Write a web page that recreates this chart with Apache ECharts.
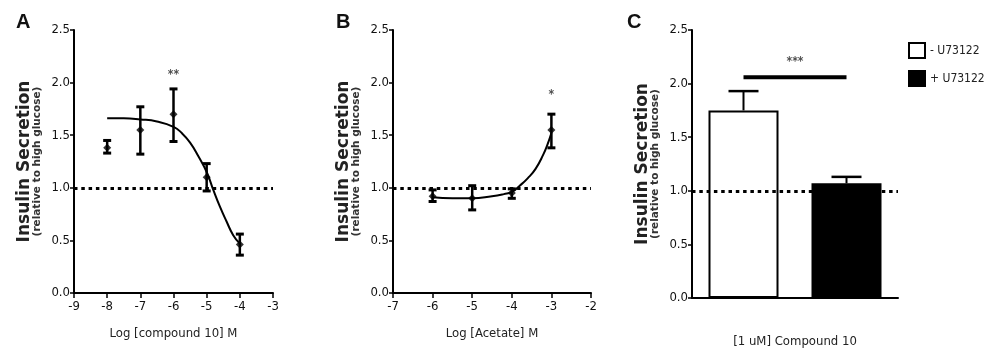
<!DOCTYPE html>
<html>
<head>
<meta charset="utf-8">
<script src="https://cdn.jsdelivr.net/npm/echarts@6/dist/echarts.min.js"></script>
<style>html,body{margin:0;padding:0;background:#fff;}#c{width:987px;height:360px;}</style>
</head>
<body>
<div id="c"></div>
<script>
// ---- Panel A: compound 10 ----
const aDose = [-8, -7, -6, -5, -4];
const aMean = [1.38, 1.55, 1.70, 1.10, 0.46];
const aLow  = [1.33, 1.32, 1.44, 0.97, 0.36];
const aHigh = [1.45, 1.77, 1.94, 1.23, 0.56];
const aFitX = [-8, -7.5, -7, -6.5, -6, -5.75, -5.5, -5.25, -5, -4.8, -4.6, -4.4, -4.2, -4];
const aFitY = [1.66, 1.66, 1.65, 1.63, 1.58, 1.52, 1.43, 1.30, 1.15, 0.98, 0.82, 0.68, 0.55, 0.47];
const aStar = [[-6, 2.07, '**']];
// ---- Panel B: acetate ----
const bDose = [-6, -5, -4, -3];
const bMean = [0.92, 0.90, 0.95, 1.55];
const bLow  = [0.87, 0.79, 0.90, 1.38];
const bHigh = [0.98, 1.02, 0.99, 1.70];
const bFitX = [-6, -5.5, -5, -4.5, -4.2, -4, -3.8, -3.6, -3.4, -3.2, -3.1, -3];
const bFitY = [0.91, 0.90, 0.90, 0.92, 0.94, 0.96, 1.02, 1.09, 1.18, 1.32, 1.41, 1.52];
const bStar = [[-3, 1.88, '*']];
// ---- Panel C: bars ----
const cGroups = ['- U73122', '+ U73122'];
const cMean = [1.75, 1.07];
const cHigh = [1.93, 1.13];
const cSigBar = [0, 1];
const cSigY = 2.06;
const cStar = [[0.5, 2.2, '***']];
// ---- axis ticks ----
const yTicks = [0, 0.5, 1.0, 1.5, 2.0, 2.5];
const refLine = 1.0;

const NARROW = "'DejaVu Sans Condensed', 'Liberation Sans Narrow', 'Liberation Sans', Arial, sans-serif";
const chart = echarts.init(document.getElementById('c'));

function yAxisCfg(gi) {
  return {
    type: 'value', gridIndex: gi, min: yTicks[0], max: yTicks[yTicks.length - 1], interval: 0.5,
    axisLine: { show: true, onZero: false, lineStyle: { color: '#000', width: 2 } },
    axisTick: { show: true, length: 4, lineStyle: { color: '#000', width: 1.5 } },
    axisLabel: { formatter: v => v.toFixed(1), fontFamily: NARROW, fontSize: 13, color: '#111', margin: 4 },
    splitLine: { show: false },
    name: '{a|Insulin Secretion}\n{b|(relative to high glucose)}',
    nameLocation: 'middle', nameRotate: 90, nameGap: 31,
    nameTextStyle: {
      rich: {
        a: { fontFamily: 'DejaVu Sans', fontWeight: 'bold', fontSize: 17, lineHeight: 14, color: '#222' },
        b: { fontFamily: 'DejaVu Sans', fontWeight: 'bold', fontSize: 10.5, lineHeight: 11, color: '#333' }
      }
    }
  };
}
function xAxisCfg(gi, min, max, name, gap) {
  return {
    type: 'value', gridIndex: gi, min: min, max: max, interval: 1,
    axisLine: { show: true, onZero: false, lineStyle: { color: '#000', width: 2 } },
    axisTick: { show: true, length: 5, lineStyle: { color: '#000', width: 1.5 } },
    axisLabel: { fontFamily: NARROW, fontSize: 13, color: '#111', margin: 7 },
    splitLine: { show: false },
    name: name, nameLocation: 'middle', nameGap: gap,
    nameTextStyle: { fontFamily: NARROW, fontSize: 13, color: '#222' }
  };
}
function errSeries(gi, xs, lo, hi, cap) {
  return {
    type: 'custom', xAxisIndex: gi, yAxisIndex: gi, silent: true, z: 4,
    data: xs.map((x, i) => [x, lo[i], hi[i]]),
    renderItem: function (params, api) {
      const x = api.value(0);
      const p1 = api.coord([x, api.value(1)]);
      const p2 = api.coord([x, api.value(2)]);
      const st = { stroke: '#000', lineWidth: 2.5 };
      const cs = { stroke: '#000', lineWidth: 3 };
      return { type: 'group', children: [
        { type: 'line', shape: { x1: p1[0], y1: p1[1], x2: p2[0], y2: p2[1] }, style: st },
        { type: 'line', shape: { x1: p1[0] - cap, y1: p1[1], x2: p1[0] + cap, y2: p1[1] }, style: cs },
        { type: 'line', shape: { x1: p2[0] - cap, y1: p2[1], x2: p2[0] + cap, y2: p2[1] }, style: cs }
      ]};
    }
  };
}
function starSeries(gi, arr) {
  return {
    type: 'scatter', xAxisIndex: gi, yAxisIndex: gi, symbolSize: 1, itemStyle: { color: 'rgba(0,0,0,0)' },
    silent: true,
    data: arr.map(d => ({ value: [d[0], d[1]], label: { formatter: d[2] } })),
    label: { show: true, position: 'inside', fontFamily: NARROW, fontSize: 12, fontWeight: 'bold', color: '#222' }
  };
}
function refMark() {
  return {
    silent: true, symbol: 'none', label: { show: false },
    lineStyle: { color: '#000', type: [3.5, 3.8], width: 3 },
    data: [{ yAxis: refLine }]
  };
}

const option = {
  animation: false,
  backgroundColor: '#fff',
  title: [
    { text: 'A', left: 11, top: 7, textStyle: { fontFamily: 'Liberation Sans', fontWeight: 'bold', fontSize: 20, color: '#111' } },
    { text: 'B', left: 331, top: 7, textStyle: { fontFamily: 'Liberation Sans', fontWeight: 'bold', fontSize: 20, color: '#111' } },
    { text: 'C', left: 622, top: 7, textStyle: { fontFamily: 'Liberation Sans', fontWeight: 'bold', fontSize: 20, color: '#111' } }
  ],
  legend: {
    orient: 'vertical', left: 903, top: 37, itemWidth: 16, itemHeight: 15, itemGap: 11,
    data: cGroups, icon: 'rect',
    textStyle: { fontFamily: NARROW, fontSize: 12, color: '#222' }
  },
  grid: [
    { left: 74, top: 30, width: 199, height: 263 },
    { left: 393, top: 30, width: 198, height: 263 },
    { left: 692, top: 30, width: 206, height: 268 }
  ],
  xAxis: [
    xAxisCfg(0, -9, -3, 'Log [compound 10] M', 34),
    xAxisCfg(1, -7, -2, 'Log [Acetate] M', 34),
    {
      type: 'value', gridIndex: 2, min: -0.5, max: 1.5,
      axisLine: { show: true, onZero: false, lineStyle: { color: '#000', width: 2 } },
      axisTick: { show: false }, axisLabel: { show: false }, splitLine: { show: false },
      name: '[1 uM] Compound 10', nameLocation: 'middle', nameGap: 37,
      nameTextStyle: { fontFamily: NARROW, fontSize: 13, color: '#222' }
    }
  ],
  yAxis: [yAxisCfg(0), yAxisCfg(1), yAxisCfg(2)],
  series: [
    // Panel A
    {
      type: 'line', xAxisIndex: 0, yAxisIndex: 0, smooth: true, showSymbol: false, silent: true,
      data: aFitX.map((x, i) => [x, aFitY[i]]),
      lineStyle: { color: '#000', width: 2 }, z: 3,
      markLine: refMark()
    },
    errSeries(0, aDose, aLow, aHigh, 4),
    {
      type: 'scatter', xAxisIndex: 0, yAxisIndex: 0, symbol: 'diamond', symbolSize: 8, z: 5,
      itemStyle: { color: '#000' }, data: aDose.map((x, i) => [x, aMean[i]])
    },
    starSeries(0, aStar),
    // Panel B
    {
      type: 'line', xAxisIndex: 1, yAxisIndex: 1, smooth: true, showSymbol: false, silent: true,
      data: bFitX.map((x, i) => [x, bFitY[i]]),
      lineStyle: { color: '#000', width: 2 }, z: 3,
      markLine: refMark()
    },
    errSeries(1, bDose, bLow, bHigh, 4),
    {
      type: 'scatter', xAxisIndex: 1, yAxisIndex: 1, symbol: 'diamond', symbolSize: 8, z: 5,
      itemStyle: { color: '#000' }, data: bDose.map((x, i) => [x, bMean[i]])
    },
    starSeries(1, bStar),
    // Panel C
    {
      name: cGroups[0], type: 'bar', xAxisIndex: 2, yAxisIndex: 2, barWidth: 70, barGap: '-100%',
      data: [[0, cMean[0]]],
      itemStyle: { color: '#fff', borderColor: '#000', borderWidth: 2 }, z: 2,
      markLine: refMark()
    },
    {
      name: cGroups[1], type: 'bar', xAxisIndex: 2, yAxisIndex: 2, barWidth: 70, barGap: '-100%',
      data: [[1, cMean[1]]],
      itemStyle: { color: '#000', borderColor: '#000', borderWidth: 2 }, z: 2
    },
    {
      type: 'custom', xAxisIndex: 2, yAxisIndex: 2, silent: true, z: 1,
      data: [0, 1].map(i => [i, cMean[i], cHigh[i]]),
      renderItem: function (params, api) {
        const x = api.value(0);
        const p1 = api.coord([x, api.value(1)]);
        const p2 = api.coord([x, api.value(2)]);
        return { type: 'group', children: [
          { type: 'line', shape: { x1: p1[0], y1: p1[1], x2: p2[0], y2: p2[1] }, style: { stroke: '#000', lineWidth: 2 } },
          { type: 'line', shape: { x1: p2[0] - 15, y1: p2[1], x2: p2[0] + 15, y2: p2[1] }, style: { stroke: '#000', lineWidth: 2.5 } }
        ]};
      }
    },
    {
      type: 'line', xAxisIndex: 2, yAxisIndex: 2, showSymbol: false, silent: true,
      data: cSigBar.map(x => [x, cSigY]),
      lineStyle: { color: '#000', width: 4 }
    },
    starSeries(2, cStar)
  ]
};
chart.setOption(option);
</script>
</body>
</html>
